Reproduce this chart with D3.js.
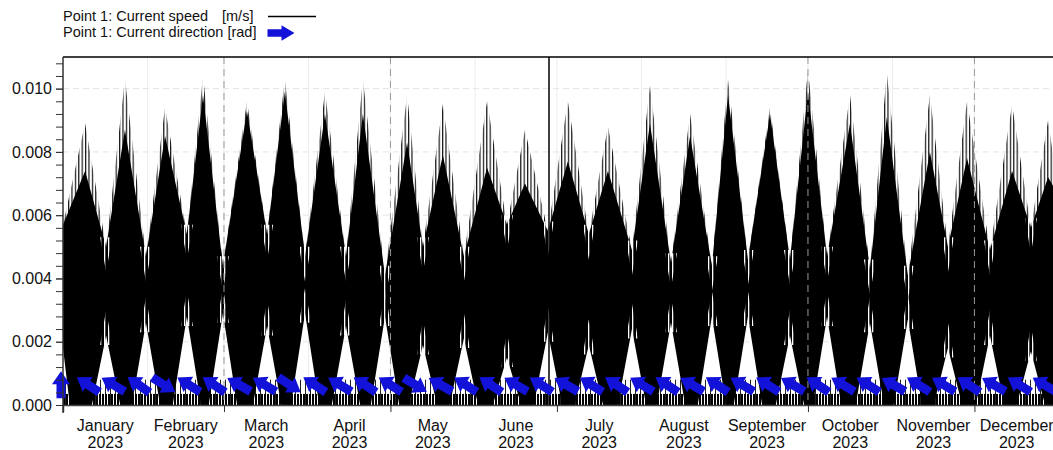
<!DOCTYPE html>
<html>
<head>
<meta charset="utf-8">
<script src="https://cdn.jsdelivr.net/npm/d3@7"></script>
<style>
  body { margin: 0; background: #fff; }
  text { font-family: "Liberation Sans", Arial, sans-serif; }
</style>
</head>
<body>
<div id="chart"></div>
<script>
// spring tides: day of 2023, top of the solid band and highest spike [m/s]
const springDay   = [8.1, 22.7, 37.4, 51.3, 67.4, 81.3, 96.0, 109.9, 126.1, 139.2, 155.4, 169.3, 185.0,
                     199.7, 215.1, 229.8, 243.7, 259.1, 273.0, 288.4, 301.9, 317.7, 331.3, 347.8, 361.0];
const springSolid = [0.0074, 0.0087, 0.0085, 0.0098, 0.0093, 0.0099, 0.0092, 0.0092, 0.0083, 0.0079, 0.0075, 0.0070, 0.0077,
                     0.0074, 0.0089, 0.0085, 0.0098, 0.0092, 0.0099, 0.0089, 0.0091, 0.0080, 0.0078, 0.0074, 0.0072];
const springSpike = [0.0089, 0.0103, 0.0094, 0.0104, 0.0096, 0.0103, 0.0099, 0.0103, 0.0098, 0.0095, 0.0096, 0.0087, 0.0096,
                     0.0088, 0.0101, 0.0092, 0.0103, 0.0094, 0.0106, 0.0098, 0.0105, 0.0098, 0.0096, 0.0095, 0.0090];

// neap tides: day, upper edge and lower edge of the speed band [m/s]
const neapDay = [15.8, 30.4, 45.4, 58.6, 74.8, 88.7, 103.7, 118.0, 131.9, 146.9, 162.7, 177.7,
                 192.7, 208.5, 222.8, 237.8, 251.0, 266.4, 280.0, 295.7, 309.6, 324.3, 339.7, 354.7];
const neapTop = [0.0050, 0.0047, 0.0054, 0.0044, 0.0054, 0.0047, 0.0047, 0.0041, 0.0050, 0.0047, 0.0057, 0.0055,
                 0.0054, 0.0049, 0.0045, 0.0044, 0.0046, 0.0046, 0.0047, 0.0043, 0.0041, 0.0050, 0.0049, 0.0056];
const neapLow = [0.0022, 0.0026, 0.0028, 0.0029, 0.0025, 0.0029, 0.0025, 0.0028, 0.0019, 0.0021, 0.0015, 0.0023,
                 0.0019, 0.0024, 0.0026, 0.0028, 0.0028, 0.0022, 0.0028, 0.0026, 0.0027, 0.0018, 0.0022, 0.0017];
const seriesStart = { top: 0.0057, low: 0.0018 };
const seriesEnd   = { top: 0.0066, low: 0.0 };

// direction arrows: day of 2023 and direction [rad]
const arrowDay = [0, 9.2, 18.4, 27.7, 36.9, 46.1, 55.3, 64.5, 73.8, 83.0, 92.2, 101.4, 110.6, 119.9,
                  129.1, 138.3, 147.5, 156.7, 166.0, 175.2, 184.4, 193.6, 202.8, 212.1, 221.3, 230.5,
                  239.7, 248.9, 258.2, 267.4, 276.6, 285.8, 295.0, 304.3, 313.5, 322.7, 331.9, 341.1, 350.4, 359.6];
const arrowDir = [1.57, 2.55, 2.60, 2.52, 5.72, 2.58, 2.55, 2.62, 2.60, 5.70, 2.56, 2.60, 2.55, 2.58,
                  5.74, 2.62, 2.58, 2.55, 2.60, 2.57, 2.62, 2.58, 2.55, 2.60, 2.56, 2.62, 2.55, 2.60,
                  2.58, 2.62, 2.55, 2.60, 2.57, 2.62, 2.58, 2.60, 2.55, 2.62, 2.58, 2.60];

const yLabelTicks = [0, 0.002, 0.004, 0.006, 0.008, 0.010];
const majorDates = ["2023-01-01", "2023-03-01", "2023-05-01", "2023-07-01", "2023-10-01", "2023-12-01"];
const monthNames = ["January", "February", "March", "April", "May", "June", "July",
                    "August", "September", "October", "November", "December"];
const yearLabel = "2023";
const markerDay = 178.1;

const width = 1053, height = 450;
const pLeft = 63, pTop = 57, pBottom = 405, pRight = 1059;
const t0 = new Date(2023, 0, 1), t1 = new Date(2024, 0, 1);
const toDate = d => new Date(t0.getTime() + d * 864e5);
const parse = d3.timeParse("%Y-%m-%d");

const x = d3.scaleTime().domain([t0, t1]).range([pLeft, pRight]);
const y = d3.scaleLinear().domain([0, 0.011]).range([pBottom, pTop]);

const svg = d3.select("#chart").append("svg")
  .attr("width", width).attr("height", height);

const defs = svg.append("defs");
defs.append("clipPath").attr("id", "plotclip")
  .append("rect").attr("x", pLeft).attr("y", pTop)
  .attr("width", pRight - pLeft).attr("height", pBottom - pTop);
function stripes(id, w, lw, col) {
  const p = defs.append("pattern").attr("id", id)
    .attr("width", w).attr("height", 10).attr("patternUnits", "userSpaceOnUse");
  p.append("rect").attr("width", lw).attr("height", 10).attr("fill", col);
}
stripes("spikes", 3.4, 1.2, "#111");
stripes("grass", 3, 2, "#000");
stripes("grassTall", 5, 1, "#222");
stripes("whiteSpikes", 4, 1.3, "#fff");

// grid
const grid = svg.append("g");
grid.selectAll(".hgrid").data(yLabelTicks.slice(1)).join("line")
  .attr("x1", pLeft).attr("x2", pRight)
  .attr("y1", d => y(d)).attr("y2", d => y(d))
  .attr("stroke", "#e4e4e4").attr("stroke-dasharray", "6,4");
grid.selectAll(".vgrid").data(d3.timeMonth.range(t0, t1).slice(1)).join("line")
  .attr("x1", d => x(d)).attr("x2", d => x(d))
  .attr("y1", pTop).attr("y2", pBottom)
  .attr("stroke", "#ececec");

// speed band
const upper = [{ d: 0, v: seriesStart.top }];
springDay.forEach((d, i) => {
  upper.push({ d: d, v: springSolid[i], spike: springSpike[i] });
  if (i < neapDay.length) upper.push({ d: neapDay[i], v: neapTop[i] });
});
upper.push({ d: 365, v: seriesEnd.top });

const halfWidth = 5.2;
const lower = [{ d: 0, v: seriesStart.low }, { d: 2.5, v: 0 }];
neapDay.forEach((d, i) => {
  lower.push({ d: d - halfWidth, v: 0 }, { d: d, v: neapLow[i] }, { d: d + halfWidth, v: 0 });
});
lower.push({ d: 365, v: seriesEnd.low });

const line = d3.line().x(p => x(toDate(p.d))).y(p => y(p.v));
const plot = svg.append("g").attr("clip-path", "url(#plotclip)");

// spiky tops
const spikeTris = [];
upper.forEach((p, i) => {
  if (p.spike !== undefined) spikeTris.push([upper[i - 1], { d: p.d, v: p.spike }, upper[i + 1]]);
});
plot.selectAll(".spk").data(spikeTris).join("path")
  .attr("d", t => line(t) + "Z")
  .attr("fill", "url(#spikes)");

plot.append("rect")
  .attr("x", pLeft).attr("width", pRight - pLeft)
  .attr("y", y(0.0008)).attr("height", y(0) - y(0.0008))
  .attr("fill", "url(#grassTall)");
plot.append("rect")
  .attr("x", pLeft).attr("width", pRight - pLeft)
  .attr("y", y(0.00035)).attr("height", y(0) - y(0.00035))
  .attr("fill", "url(#grass)");

plot.append("path")
  .attr("d", line(upper.concat(lower.slice().reverse())) + "Z")
  .attr("fill", "#000");

// white streaks reaching into the band around neap tides
const streak = 2.2, reach = 0.0008;
plot.selectAll(".wtop").data(neapDay).join("path")
  .attr("d", (d, i) => line([{ d: d - streak, v: neapTop[i] + 0.0003 }, { d: d, v: neapTop[i] - reach },
                              { d: d + streak, v: neapTop[i] + 0.0003 }]) + "Z")
  .attr("fill", "url(#whiteSpikes)");
plot.selectAll(".wlow").data(neapDay).join("path")
  .attr("d", (d, i) => line([{ d: d - streak, v: neapLow[i] - 0.0003 }, { d: d, v: neapLow[i] + reach },
                              { d: d + streak, v: neapLow[i] - 0.0003 }]) + "Z")
  .attr("fill", "url(#whiteSpikes)");

// darker date lines on top
plot.selectAll(".mgrid").data(majorDates.slice(1).filter(s => s !== "2023-07-01")).join("line")
  .attr("x1", s => x(parse(s))).attr("x2", s => x(parse(s)))
  .attr("y1", pTop).attr("y2", pBottom)
  .attr("stroke", "#999").attr("stroke-dasharray", "7,5").attr("stroke-width", 1);

plot.append("line")
  .attr("x1", x(toDate(markerDay))).attr("x2", x(toDate(markerDay)))
  .attr("y1", pTop).attr("y2", pBottom)
  .attr("stroke", "#000").attr("stroke-width", 1.5);

// direction arrows
const arrowPath = "M-13.5,-4.5L0.5,-4.5L0.5,-9L13.5,0L0.5,9L0.5,4.5L-13.5,4.5Z";
const blue = "#1212d8";
svg.append("g").selectAll("path").data(arrowDay).join("path")
  .attr("d", arrowPath)
  .attr("fill", blue)
  .attr("transform", (d, i) => {
    const cx = d === 0 ? x(toDate(d)) - 2 : x(toDate(d));
    return `translate(${cx},${y(0.00064)}) rotate(${-arrowDir[i] * 180 / Math.PI})`;
  });

// axes
const yMinor = d3.range(0, 0.01085, 0.0004);
svg.append("g").attr("transform", `translate(${pLeft},0)`)
  .call(d3.axisLeft(y).tickValues(yMinor).tickSize(7).tickFormat(""))
  .call(g => g.select(".domain").remove())
  .call(g => g.selectAll("line").attr("stroke", "#333"));
svg.append("g").attr("transform", `translate(${pLeft},0)`)
  .call(d3.axisLeft(y).tickValues(yLabelTicks).tickSize(7).tickPadding(4).tickFormat(d3.format(".3f")))
  .call(g => g.select(".domain").remove())
  .call(g => g.selectAll("line").attr("stroke", "#333"))
  .call(g => g.selectAll("text").attr("font-size", 16).attr("fill", "#111")
    .attr("font-family", "Liberation Sans, Arial, sans-serif"));

svg.append("g").attr("transform", `translate(0,${pBottom})`)
  .call(d3.axisBottom(x).tickValues(majorDates.map(parse)).tickSize(7).tickFormat(""))
  .call(g => g.select(".domain").attr("stroke", "#444").attr("stroke-width", 1.5))
  .call(g => g.selectAll("line").attr("stroke", "#333"));

const months = d3.timeMonth.range(t0, t1);
const mid = m => new Date((m.getTime() + d3.timeMonth.offset(m, 1).getTime()) / 2);
const mlab = svg.append("g").selectAll("text").data(months).join("text")
  .attr("x", m => x(mid(m)))
  .attr("text-anchor", "middle")
  .attr("font-size", 16).attr("fill", "#111");
mlab.append("tspan").attr("x", m => x(mid(m))).attr("y", 431).text((m, i) => monthNames[i]);
mlab.append("tspan").attr("x", m => x(mid(m))).attr("y", 448).text(yearLabel);

// frame
svg.append("line").attr("x1", pLeft).attr("x2", width).attr("y1", pTop).attr("y2", pTop)
  .attr("stroke", "#000").attr("stroke-width", 1.5);
svg.append("line").attr("x1", pLeft).attr("x2", pLeft).attr("y1", pTop).attr("y2", pBottom + 8)
  .attr("stroke", "#333").attr("stroke-width", 1.5);

// legend
const leg = svg.append("g").attr("font-size", 14.5).attr("fill", "#111");
leg.append("text").attr("x", 63).attr("y", 21).text("Point 1: Current speed");
leg.append("text").attr("x", 222).attr("y", 21).text("[m/s]");
leg.append("text").attr("x", 63).attr("y", 37).text("Point 1: Current direction [rad]");
svg.append("line").attr("x1", 268).attr("x2", 316).attr("y1", 16.5).attr("y2", 16.5)
  .attr("stroke", "#000").attr("stroke-width", 1.5);
svg.append("path").attr("d", arrowPath).attr("fill", blue)
  .attr("transform", "translate(281,33) scale(1,0.85)");
</script>
</body>
</html>
